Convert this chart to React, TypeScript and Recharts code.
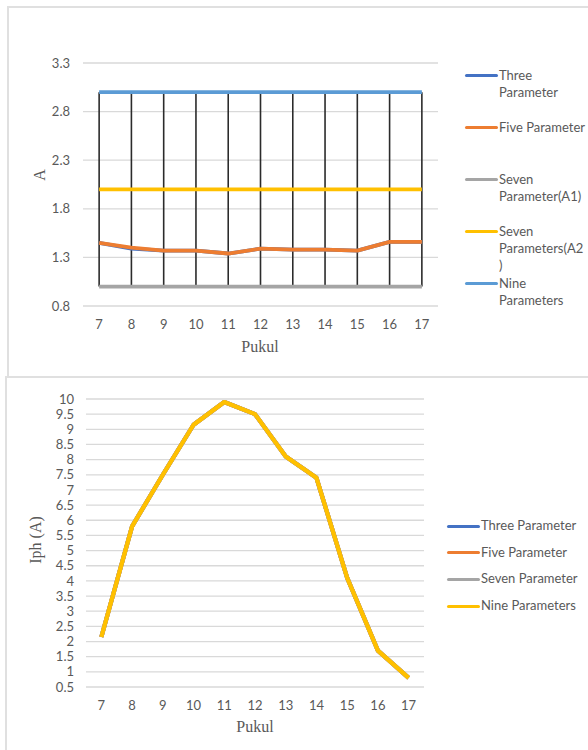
import React from "react";
import { LineChart, Line, XAxis, YAxis, CartesianGrid, ReferenceLine } from "recharts";

const TEXT = "#595959";
const GRID = "#d9d9d9";
const SANS = "Lato, 'Open Sans', sans-serif";
const SERIF = "'Liberation Serif', 'Times New Roman', serif";

const DARK_BLUE = "#4472C4";
const ORANGE = "#ED7D31";
const GRAY = "#A5A5A5";
const YELLOW = "#FFC000";
const LIGHT_BLUE = "#5B9BD5";

const hours = [7, 8, 9, 10, 11, 12, 13, 14, 15, 16, 17];

// upper chart: A per hour
const aTicks = [0.8, 1.3, 1.8, 2.3, 2.8, 3.3];
const aThree = [1.45, 1.39, 1.37, 1.37, 1.34, 1.39, 1.38, 1.38, 1.37, 1.46, 1.46];
const aFive = [1.45, 1.4, 1.37, 1.37, 1.34, 1.39, 1.38, 1.38, 1.37, 1.46, 1.46];
const aSevenA1 = [1, 1, 1, 1, 1, 1, 1, 1, 1, 1, 1];
const aSevenA2 = [2, 2, 2, 2, 2, 2, 2, 2, 2, 2, 2];
const aNine = [3, 3, 3, 3, 3, 3, 3, 3, 3, 3, 3];

// lower chart: Iph (A) per hour
const iphTicks = [0.5, 1, 1.5, 2, 2.5, 3, 3.5, 4, 4.5, 5, 5.5, 6, 6.5, 7, 7.5, 8, 8.5, 9, 9.5, 10];
const iphThree = [2.15, 5.8, 7.5, 9.15, 9.9, 9.5, 8.1, 7.4, 4.1, 1.7, 0.8];
const iphFive = [2.15, 5.8, 7.5, 9.15, 9.9, 9.5, 8.1, 7.4, 4.1, 1.7, 0.8];
const iphSeven = [2.15, 5.8, 7.5, 9.15, 9.9, 9.5, 8.1, 7.4, 4.1, 1.7, 0.8];
const iphNine = [2.15, 5.8, 7.5, 9.15, 9.9, 9.5, 8.1, 7.4, 4.1, 1.7, 0.8];

const topSeries = [
  { key: "three", name: "Three Parameter", color: DARK_BLUE, lines: ["Three", "Parameter"] },
  { key: "five", name: "Five Parameter", color: ORANGE, lines: ["Five Parameter"] },
  { key: "sevenA1", name: "Seven Parameter(A1)", color: GRAY, lines: ["Seven", "Parameter(A1)"] },
  { key: "sevenA2", name: "Seven Parameters(A2)", color: YELLOW, lines: ["Seven", "Parameters(A2", ")"] },
  { key: "nine", name: "Nine Parameters", color: LIGHT_BLUE, lines: ["Nine", "Parameters"] },
];

const bottomSeries = [
  { key: "three", name: "Three Parameter", color: DARK_BLUE, lines: ["Three Parameter"] },
  { key: "five", name: "Five Parameter", color: ORANGE, lines: ["Five Parameter"] },
  { key: "seven", name: "Seven Parameter", color: GRAY, lines: ["Seven Parameter"] },
  { key: "nine", name: "Nine Parameters", color: YELLOW, lines: ["Nine Parameters"] },
];

const topRows = hours.map((hour, i) => {
  const vals = [aThree[i], aFive[i], aSevenA1[i], aSevenA2[i], aNine[i]];
  return {
    hour,
    three: aThree[i],
    five: aFive[i],
    sevenA1: aSevenA1[i],
    sevenA2: aSevenA2[i],
    nine: aNine[i],
    lo: Math.min(...vals),
    hi: Math.max(...vals),
  };
});

const bottomRows = hours.map((hour, i) => ({
  hour,
  three: iphThree[i],
  five: iphFive[i],
  seven: iphSeven[i],
  nine: iphNine[i],
}));

const tickStyle = { fill: TEXT, fontSize: 13, fontFamily: SANS };

type LegendItem = { key: string; name: string; color: string; lines: string[] };

function SideLegend({ items, left, top, step }: { items: LegendItem[]; left: number; top: number; step: number }) {
  return (
    <>
      {items.map((it, i) => (
        <div
          key={it.key}
          style={{ position: "absolute", left, top: top + i * step - 8.5, display: "flex", alignItems: "flex-start" }}
        >
          <div style={{ width: 33, height: 3, background: it.color, marginTop: 7.5, borderRadius: 1.5 }} />
          <div style={{ marginLeft: 1, fontFamily: SANS, fontSize: 13, color: TEXT, lineHeight: "17.3px", whiteSpace: "nowrap" }}>
            {it.lines.map((l, j) => (
              <div key={j}>{l}</div>
            ))}
          </div>
        </div>
      ))}
    </>
  );
}

function AxisTitle({ text, x, y, rotate }: { text: string; x: number; y: number; rotate?: boolean }) {
  return (
    <div
      style={{
        position: "absolute",
        left: x,
        top: y,
        transform: `translate(-50%, -50%)${rotate ? " rotate(-90deg)" : ""}`,
        fontFamily: SERIF,
        fontSize: 16,
        color: TEXT,
        whiteSpace: "nowrap",
        lineHeight: 1,
      }}
    >
      {text}
    </div>
  );
}

export default function App() {
  return (
    <div style={{ position: "absolute", left: 0, top: 0, width: 588, height: 750, background: "#fff", overflow: "hidden" }}>
      {/* upper panel */}
      <div style={{ position: "absolute", left: 7, top: 6, width: 600, height: 380, borderLeft: "2px solid #e0e0e0", borderTop: "2px solid #e0e0e0" }} />
      <div style={{ position: "absolute", left: 0, top: 0 }}>
        <LineChart width={588} height={376} data={topRows} margin={{ top: 63, right: 150, bottom: 40, left: 0 }}>
          <CartesianGrid vertical={false} stroke={GRID} strokeWidth={1.3} />
          <XAxis
            dataKey="hour"
            type="number"
            domain={[6.5, 17.5]}
            ticks={hours}
            interval={0}
            axisLine={false}
            tickLine={false}
            tickSize={6}
            tickMargin={8}
            height={30}
            tick={tickStyle}
          />
          <YAxis
            type="number"
            domain={[0.8, 3.3]}
            ticks={aTicks}
            interval={0}
            axisLine={false}
            tickLine={false}
            width={83}
            tickSize={6}
            tickMargin={7}
            tick={tickStyle}
          />
          {/* high-low lines between the extreme series at each hour */}
          {topRows.map((r) => (
            <ReferenceLine
              key={r.hour}
              segment={[{ x: r.hour, y: r.lo }, { x: r.hour, y: r.hi }]}
              stroke="#2b2b2b"
              strokeWidth={1.6}
            />
          ))}
          {topSeries.map((s) => (
            <Line
              key={s.key}
              dataKey={s.key}
              name={s.name}
              type="linear"
              stroke={s.color}
              strokeWidth={3.8}
              strokeLinejoin="round"
              dot={false}
              activeDot={false}
              isAnimationActive={false}
            />
          ))}
        </LineChart>
      </div>
      <SideLegend items={topSeries} left={465} top={75} step={52.1} />
      <AxisTitle text="A" x={40} y={175} rotate />
      <AxisTitle text="Pukul" x={260} y={347} />

      {/* lower panel */}
      <div style={{ position: "absolute", left: 5, top: 376, width: 600, height: 380, borderLeft: "2px solid #e0e0e0", borderTop: "2px solid #e0e0e0", background: "#fff" }} />
      <div style={{ position: "absolute", left: 0, top: 376 }}>
        <LineChart width={588} height={374} data={bottomRows} margin={{ top: 23, right: 164, bottom: 33, left: 0 }}>
          <CartesianGrid vertical={false} stroke={GRID} strokeWidth={1.3} />
          <XAxis
            dataKey="hour"
            type="number"
            domain={[6.5, 17.5]}
            ticks={hours}
            interval={0}
            axisLine={false}
            tickLine={false}
            tickSize={6}
            tickMargin={8}
            height={30}
            tick={tickStyle}
          />
          <YAxis
            type="number"
            domain={[0.5, 10]}
            ticks={iphTicks}
            interval={0}
            axisLine={false}
            tickLine={false}
            width={86}
            tickSize={6}
            tickMargin={6}
            tick={tickStyle}
          />
          {bottomSeries.map((s) => (
            <Line
              key={s.key}
              dataKey={s.key}
              name={s.name}
              type="linear"
              stroke={s.color}
              strokeWidth={4.2}
              strokeLinejoin="round"
              dot={false}
              activeDot={false}
              isAnimationActive={false}
            />
          ))}
        </LineChart>
      </div>
      <SideLegend items={bottomSeries} left={447} top={525.5} step={26.7} />
      <AxisTitle text="Iph (A)" x={36} y={540} rotate />
      <AxisTitle text="Pukul" x={255} y={727} />
    </div>
  );
}
